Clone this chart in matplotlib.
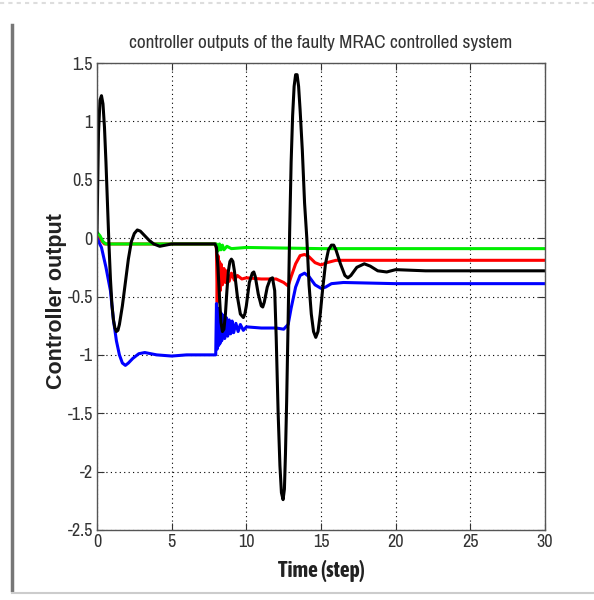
import matplotlib
matplotlib.use("Agg")
import matplotlib.pyplot as plt
from matplotlib.lines import Line2D

# ---------------- data ----------------
t_black = [0.0, 0.1, 0.2, 0.3, 0.4, 0.5, 0.6, 0.7, 0.8, 0.9, 1.0, 1.1, 1.2, 1.3, 1.4,
           1.5, 1.7, 1.9, 2.1, 2.3, 2.5, 2.7, 2.9, 3.2, 3.5, 3.8, 4.2, 4.6, 5.0, 6.0,
           7.0, 7.9, 8.0, 8.1, 8.2, 8.3, 8.4, 8.5, 8.6, 8.7, 8.8, 8.9, 9.0, 9.1, 9.2,
           9.4, 9.6, 9.8, 9.9, 10.0, 10.2, 10.4, 10.5, 10.6, 10.8, 11.0, 11.1, 11.2,
           11.4, 11.6, 11.75, 11.9, 12.0, 12.13, 12.25, 12.35, 12.46, 12.55, 12.62,
           12.7, 12.8, 12.9, 13.0, 13.1, 13.2, 13.3, 13.4, 13.5, 13.6, 13.75, 13.9,
           14.05, 14.2, 14.35, 14.5, 14.65, 14.8, 14.95, 15.1, 15.3, 15.5, 15.7,
           15.85, 16.0, 16.3, 16.6, 16.8, 17.0, 17.4, 17.9, 18.3, 18.8, 19.4, 20.0,
           22.0, 25.0, 30.0]
y_black = [0.05, 0.90, 1.18, 1.22, 1.15, 0.95, 0.65, 0.30, -0.05, -0.35, -0.57, -0.70,
           -0.77, -0.80, -0.79, -0.74, -0.58, -0.38, -0.18, -0.03, 0.04, 0.07, 0.06,
           0.02, -0.02, -0.05, -0.07, -0.06, -0.05, -0.05, -0.05, -0.05, -0.08, -0.25,
           -0.50, -0.72, -0.80, -0.78, -0.65, -0.45, -0.28, -0.20, -0.18, -0.20, -0.28,
           -0.50, -0.65, -0.68, -0.65, -0.58, -0.38, -0.30, -0.29, -0.33, -0.48, -0.58,
           -0.59, -0.55, -0.42, -0.35, -0.34, -0.45, -0.85, -1.50, -1.95, -2.18, -2.24,
           -2.15, -1.85, -1.40, -0.70, 0.05, 0.65, 1.05, 1.30, 1.40, 1.40, 1.30, 1.10,
           0.75, 0.30, 0.00, -0.40, -0.65, -0.80, -0.85, -0.80, -0.65, -0.45, -0.22,
           -0.10, -0.06, -0.06, -0.10, -0.22, -0.32, -0.34, -0.32, -0.25, -0.22, -0.24,
           -0.28, -0.29, -0.27, -0.28, -0.28, -0.28]

t_green = [0.0, 0.2, 0.4, 0.6, 1.0, 3.0, 5.0, 7.95, 8.0, 8.1, 8.2, 8.3, 8.4, 8.5,
           8.7, 9.0, 10.0, 15.0, 20.0, 25.0, 30.0]
y_green = [0.05, 0.02, -0.03, -0.05, -0.05, -0.05, -0.05, -0.05, -0.05, -0.11, -0.05,
           -0.10, -0.06, -0.10, -0.07, -0.09, -0.08, -0.09, -0.09, -0.09, -0.09]

t_red = [0.0, 0.5, 1.0, 4.0, 7.95, 8.0, 8.05, 8.1, 8.15, 8.2, 8.25, 8.3, 8.4, 8.5,
         8.6, 8.7, 8.85, 9.0, 9.2, 9.4, 9.7, 10.0, 11.0, 12.0, 12.5, 12.8, 13.0,
         13.3, 13.6, 13.9, 14.2, 14.6, 15.0, 15.4, 16.0, 20.0, 30.0]
y_red = [0.02, -0.05, -0.05, -0.05, -0.05, -0.10, -0.55, -0.15, -0.48, -0.20, -0.45,
         -0.22, -0.40, -0.26, -0.38, -0.28, -0.37, -0.30, -0.36, -0.32, -0.35, -0.34,
         -0.35, -0.35, -0.38, -0.41, -0.33, -0.22, -0.15, -0.14, -0.16, -0.21, -0.23,
         -0.21, -0.19, -0.19, -0.19]

t_blue = [0.0, 0.3, 0.6, 0.9, 1.1, 1.3, 1.5, 1.7, 1.9, 2.1, 2.4, 2.8, 3.2, 3.6, 4.0,
          5.0, 6.0, 7.0, 7.95, 8.0, 8.05, 8.1, 8.15, 8.2, 8.25, 8.3, 8.35, 8.45, 8.55,
          8.65, 8.75, 8.85, 8.95, 9.05, 9.15, 9.3, 9.45, 9.6, 9.8, 10.0, 11.0, 12.0,
          12.5, 12.8, 13.0, 13.3, 13.6, 13.9, 14.2, 14.6, 15.0, 15.3, 15.7, 16.5,
          20.0, 30.0]
y_blue = [0.0, -0.08, -0.25, -0.45, -0.70, -0.88, -1.00, -1.07, -1.09, -1.07, -1.03,
          -0.99, -0.98, -0.99, -1.00, -1.01, -1.00, -1.00, -1.00, -0.56, -0.95, -0.60,
          -0.92, -0.62, -0.90, -0.64, -0.88, -0.66, -0.86, -0.68, -0.84, -0.70, -0.82,
          -0.71, -0.81, -0.73, -0.80, -0.74, -0.79, -0.76, -0.77, -0.77, -0.78, -0.74,
          -0.60, -0.42, -0.32, -0.30, -0.33, -0.40, -0.43, -0.42, -0.39, -0.38, -0.39,
          -0.39]

x_ticks = [0, 5, 10, 15, 20, 25, 30]
y_ticks = [-2.5, -2, -1.5, -1, -0.5, 0, 0.5, 1, 1.5]
y_tick_labels = ["-2.5", "-2", "-1.5", "-1", "-0.5", "0", "0.5", "1", "1.5"]
title = "controller outputs of the faulty MRAC controlled system"
xlabel = "Time (step)"
ylabel = "Controller output"

# ---------------- figure ----------------
narrow = ["Archivo Narrow", "Liberation Sans", "DejaVu Sans"]
bold_sans = ["Liberation Sans", "DejaVu Sans"]
bold_narrow = ["Asap Condensed", "Liberation Sans", "DejaVu Sans"]
plt.rcParams["font.family"] = narrow

fig = plt.figure(figsize=(5.94, 6.0), dpi=100)
ax = fig.add_axes([97 / 594, 1 - 530 / 600, (545 - 97) / 594, (530 - 63) / 600])

ax.plot(t_red, y_red, color="#ff0000", lw=2.2)
ax.plot(t_green, y_green, color="#00ee00", lw=2.2)
ax.plot(t_blue, y_blue, color="#0000ff", lw=2.2)
ax.plot(t_black, y_black, color="black", lw=2.2)

ax.set_xlim(0, 30)
ax.set_ylim(-2.5, 1.5)
ax.set_xticks(x_ticks)
ax.set_yticks(y_ticks)
ax.set_yticklabels(y_tick_labels)
ax.grid(True, color="black", linestyle=(0, (1, 3)), lw=0.8)
ax.tick_params(direction="in", length=5, top=True, right=True,
               labelsize=13, colors="#333333", pad=3)
for s in ax.spines.values():
    s.set_color("#555555")
    s.set_linewidth(1.0)

ax.set_title(title, fontsize=13.8, color="#333333", pad=11)
ax.set_xlabel(xlabel, fontsize=15.5, fontweight="bold", color="#222222",
              family=bold_narrow, labelpad=7)
ax.set_ylabel(ylabel, fontsize=15.5, fontweight="bold", color="#222222",
              family=bold_sans, labelpad=0)
ax.yaxis.label.set_y(0.49)

# screenshot frame decorations
fig.add_artist(Line2D([12 / 594, 12 / 594], [1 - 590 / 600, 1 - 25 / 600],
                      transform=fig.transFigure, color="#777777", lw=2.5))
fig.add_artist(Line2D([0, 1], [1 - 3 / 600, 1 - 3 / 600],
                      transform=fig.transFigure, color="#dddddd", lw=1.5,
                      linestyle=(0, (2, 2))))
fig.add_artist(Line2D([12 / 594, 1], [1 - 593 / 600, 1 - 593 / 600],
                      transform=fig.transFigure, color="#cccccc", lw=1.5))

fig.savefig("out.png", dpi=100)
